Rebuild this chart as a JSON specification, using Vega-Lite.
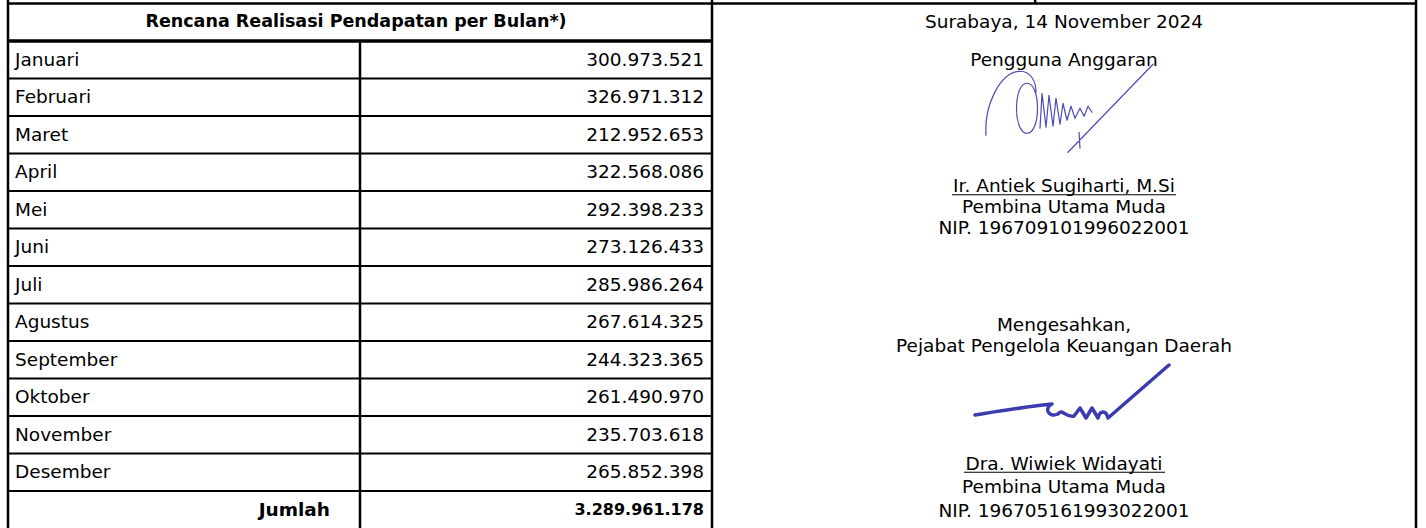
{
  "$schema": "https://vega.github.io/schema/vega-lite/v6.json",
  "width": 1408,
  "height": 525,
  "padding": {"left": 8, "top": 3.5, "right": 10, "bottom": 0},
  "autosize": {"type": "none"},
  "background": "#ffffff",
  "config": {
    "view": {"stroke": null},
    "axis": {"disable": true},
    "font": "DejaVu Sans",
    "text": {"font": "DejaVu Sans", "fontSize": 18.5, "color": "#000000"},
    "locale": {"number": {"decimal": ",", "thousands": ".", "grouping": [3], "currency": ["Rp", ""]}}
  },
  "datasets": {
    "bulan": [
      {"bulan": "Januari", "nilai": 300973521},
      {"bulan": "Februari", "nilai": 326971312},
      {"bulan": "Maret", "nilai": 212952653},
      {"bulan": "April", "nilai": 322568086},
      {"bulan": "Mei", "nilai": 292398233},
      {"bulan": "Juni", "nilai": 273126433},
      {"bulan": "Juli", "nilai": 285986264},
      {"bulan": "Agustus", "nilai": 267614325},
      {"bulan": "September", "nilai": 244323365},
      {"bulan": "Oktober", "nilai": 261490970},
      {"bulan": "November", "nilai": 235703618},
      {"bulan": "Desember", "nilai": 265852398}
    ],
    "ttd": [
      {"baris": "judul", "teks": ["Surabaya, 14 November 2024"]},
      {"baris": "Januari", "teks": ["Pengguna Anggaran"]},
      {"baris": "Mei", "teks": ["Ir. Antiek Sugiharti, M.Si", "Pembina Utama Muda", "NIP. 196709101996022001"]},
      {"baris": "Agustus", "teks": ["Mengesahkan,", "Pejabat Pengelola Keuangan Daerah"]},
      {"baris": "Desember", "teks": ["Dra. Wiwiek Widayati", "Pembina Utama Muda", "NIP. 196705161993022001"]}
    ]
  },
  "layer": [
    {
      "data": {"name": "bulan"},
      "mark": {"type": "rule", "color": "#000000", "strokeWidth": 2},
      "encoding": {
        "y": {"field": "bulan", "type": "nominal", "bandPosition": 1, "axis": null, "scale": {"type": "band", "domain": ["judul", "Januari", "Februari", "Maret", "April", "Mei", "Juni", "Juli", "Agustus", "September", "Oktober", "November", "Desember", "Jumlah"], "paddingInner": 0, "paddingOuter": 0}},
        "x": {"datum": "label", "type": "nominal", "bandPosition": 0, "axis": null, "scale": {"type": "band", "domain": ["label", "value", "panel1", "panel2"], "paddingInner": 0, "paddingOuter": 0}},
        "x2": {"datum": "panel1", "bandPosition": 0}
      }
    },
    {
      "data": {"values": [{}]},
      "mark": {"type": "rule", "color": "#000000", "strokeWidth": 3.5},
      "encoding": {
        "y": {"datum": "Januari", "type": "nominal", "bandPosition": 0, "axis": null, "scale": {"type": "band", "domain": ["judul", "Januari", "Februari", "Maret", "April", "Mei", "Juni", "Juli", "Agustus", "September", "Oktober", "November", "Desember", "Jumlah"], "paddingInner": 0, "paddingOuter": 0}},
        "x": {"datum": "label", "type": "nominal", "bandPosition": 0, "axis": null, "scale": {"type": "band", "domain": ["label", "value", "panel1", "panel2"], "paddingInner": 0, "paddingOuter": 0}},
        "x2": {"datum": "panel1", "bandPosition": 0}
      }
    },
    {
      "data": {"values": [{}]},
      "mark": {"type": "rule", "color": "#000000", "strokeWidth": 2.5},
      "encoding": {
        "y": {"datum": "judul", "type": "nominal", "bandPosition": 0, "axis": null, "scale": {"type": "band", "domain": ["judul", "Januari", "Februari", "Maret", "April", "Mei", "Juni", "Juli", "Agustus", "September", "Oktober", "November", "Desember", "Jumlah"], "paddingInner": 0, "paddingOuter": 0}},
        "x": {"datum": "label", "type": "nominal", "bandPosition": 0, "axis": null, "scale": {"type": "band", "domain": ["label", "value", "panel1", "panel2"], "paddingInner": 0, "paddingOuter": 0}},
        "x2": {"datum": "panel2", "bandPosition": 1}
      }
    },
    {
      "data": {"values": [{"kolom": "label"}, {"kolom": "panel1"}]},
      "mark": {"type": "rule", "color": "#000000", "strokeWidth": 2.5, "yOffset": -4, "y2Offset": 2},
      "encoding": {
        "x": {"field": "kolom", "type": "nominal", "bandPosition": 0, "axis": null, "scale": {"type": "band", "domain": ["label", "value", "panel1", "panel2"], "paddingInner": 0, "paddingOuter": 0}},
        "y": {"datum": "judul", "type": "nominal", "bandPosition": 0, "axis": null, "scale": {"type": "band", "domain": ["judul", "Januari", "Februari", "Maret", "April", "Mei", "Juni", "Juli", "Agustus", "September", "Oktober", "November", "Desember", "Jumlah"], "paddingInner": 0, "paddingOuter": 0}},
        "y2": {"datum": "Jumlah", "bandPosition": 1}
      }
    },
    {
      "data": {"values": [{}]},
      "mark": {"type": "rule", "color": "#000000", "strokeWidth": 2.5, "yOffset": -4, "y2Offset": 2},
      "encoding": {
        "x": {"datum": "panel2", "type": "nominal", "bandPosition": 1, "axis": null, "scale": {"type": "band", "domain": ["label", "value", "panel1", "panel2"], "paddingInner": 0, "paddingOuter": 0}},
        "y": {"datum": "judul", "type": "nominal", "bandPosition": 0, "axis": null, "scale": {"type": "band", "domain": ["judul", "Januari", "Februari", "Maret", "April", "Mei", "Juni", "Juli", "Agustus", "September", "Oktober", "November", "Desember", "Jumlah"], "paddingInner": 0, "paddingOuter": 0}},
        "y2": {"datum": "Jumlah", "bandPosition": 1}
      }
    },
    {
      "data": {"values": [{}]},
      "mark": {"type": "rule", "color": "#000000", "strokeWidth": 2.5, "yOffset": -4},
      "encoding": {
        "x": {"datum": "panel1", "type": "nominal", "bandPosition": 0.918, "axis": null, "scale": {"type": "band", "domain": ["label", "value", "panel1", "panel2"], "paddingInner": 0, "paddingOuter": 0}},
        "y": {"datum": "judul", "type": "nominal", "bandPosition": 0, "axis": null, "scale": {"type": "band", "domain": ["judul", "Januari", "Februari", "Maret", "April", "Mei", "Juni", "Juli", "Agustus", "September", "Oktober", "November", "Desember", "Jumlah"], "paddingInner": 0, "paddingOuter": 0}},
        "y2": {"datum": "judul", "bandPosition": 0}
      }
    },
    {
      "data": {"values": [{}]},
      "mark": {"type": "rule", "color": "#000000", "strokeWidth": 2.5, "y2Offset": 2},
      "encoding": {
        "x": {"datum": "value", "type": "nominal", "bandPosition": 0, "axis": null, "scale": {"type": "band", "domain": ["label", "value", "panel1", "panel2"], "paddingInner": 0, "paddingOuter": 0}},
        "y": {"datum": "Januari", "type": "nominal", "bandPosition": 0, "axis": null, "scale": {"type": "band", "domain": ["judul", "Januari", "Februari", "Maret", "April", "Mei", "Juni", "Juli", "Agustus", "September", "Oktober", "November", "Desember", "Jumlah"], "paddingInner": 0, "paddingOuter": 0}},
        "y2": {"datum": "Jumlah", "bandPosition": 1}
      }
    },
    {
      "data": {"values": [{}]},
      "mark": {"type": "text", "text": "Rencana Realisasi Pendapatan per Bulan*)", "fontWeight": "bold", "fontSize": 17.5, "align": "center", "baseline": "middle", "dx": -4},
      "encoding": {
        "x": {"datum": "value", "type": "nominal", "bandPosition": 0, "axis": null, "scale": {"type": "band", "domain": ["label", "value", "panel1", "panel2"], "paddingInner": 0, "paddingOuter": 0}},
        "y": {"datum": "judul", "type": "nominal", "bandPosition": 0.5, "axis": null, "scale": {"type": "band", "domain": ["judul", "Januari", "Februari", "Maret", "April", "Mei", "Juni", "Juli", "Agustus", "September", "Oktober", "November", "Desember", "Jumlah"], "paddingInner": 0, "paddingOuter": 0}}
      }
    },
    {
      "data": {"name": "bulan"},
      "mark": {"type": "text", "align": "left", "baseline": "middle", "dx": 7},
      "encoding": {
        "text": {"field": "bulan", "type": "nominal"},
        "x": {"datum": "label", "type": "nominal", "bandPosition": 0, "axis": null, "scale": {"type": "band", "domain": ["label", "value", "panel1", "panel2"], "paddingInner": 0, "paddingOuter": 0}},
        "y": {"field": "bulan", "type": "nominal", "bandPosition": 0.5, "axis": null, "scale": {"type": "band", "domain": ["judul", "Januari", "Februari", "Maret", "April", "Mei", "Juni", "Juli", "Agustus", "September", "Oktober", "November", "Desember", "Jumlah"], "paddingInner": 0, "paddingOuter": 0}}
      }
    },
    {
      "data": {"name": "bulan"},
      "mark": {"type": "text", "align": "right", "baseline": "middle", "dx": -8},
      "encoding": {
        "text": {"field": "nilai", "type": "quantitative", "format": ",d"},
        "x": {"datum": "value", "type": "nominal", "bandPosition": 1, "axis": null, "scale": {"type": "band", "domain": ["label", "value", "panel1", "panel2"], "paddingInner": 0, "paddingOuter": 0}},
        "y": {"field": "bulan", "type": "nominal", "bandPosition": 0.5, "axis": null, "scale": {"type": "band", "domain": ["judul", "Januari", "Februari", "Maret", "April", "Mei", "Juni", "Juli", "Agustus", "September", "Oktober", "November", "Desember", "Jumlah"], "paddingInner": 0, "paddingOuter": 0}}
      }
    },
    {
      "data": {"values": [{}]},
      "mark": {"type": "text", "text": "Jumlah", "fontWeight": "bold", "fontSize": 18.5, "align": "right", "baseline": "middle", "dx": -30},
      "encoding": {
        "x": {"datum": "label", "type": "nominal", "bandPosition": 1, "axis": null, "scale": {"type": "band", "domain": ["label", "value", "panel1", "panel2"], "paddingInner": 0, "paddingOuter": 0}},
        "y": {"datum": "Jumlah", "type": "nominal", "bandPosition": 0.5, "axis": null, "scale": {"type": "band", "domain": ["judul", "Januari", "Februari", "Maret", "April", "Mei", "Juni", "Juli", "Agustus", "September", "Oktober", "November", "Desember", "Jumlah"], "paddingInner": 0, "paddingOuter": 0}}
      }
    },
    {
      "data": {"name": "bulan"},
      "transform": [{"aggregate": [{"op": "sum", "field": "nilai", "as": "total"}]}],
      "mark": {"type": "text", "fontWeight": "bold", "fontSize": 16, "align": "right", "baseline": "middle", "dx": -8},
      "encoding": {
        "text": {"field": "total", "type": "quantitative", "format": ",d"},
        "x": {"datum": "value", "type": "nominal", "bandPosition": 1, "axis": null, "scale": {"type": "band", "domain": ["label", "value", "panel1", "panel2"], "paddingInner": 0, "paddingOuter": 0}},
        "y": {"datum": "Jumlah", "type": "nominal", "bandPosition": 0.5, "axis": null, "scale": {"type": "band", "domain": ["judul", "Januari", "Februari", "Maret", "April", "Mei", "Juni", "Juli", "Agustus", "September", "Oktober", "November", "Desember", "Jumlah"], "paddingInner": 0, "paddingOuter": 0}}
      }
    },
    {
      "data": {"name": "ttd"},
      "transform": [{"filter": {"field": "baris", "oneOf": ["judul", "Januari"]}}],
      "mark": {"type": "text", "align": "center", "baseline": "middle", "lineHeight": 22},
      "encoding": {
        "text": {"field": "teks", "type": "nominal"},
        "x": {"datum": "panel2", "type": "nominal", "bandPosition": 0, "axis": null, "scale": {"type": "band", "domain": ["label", "value", "panel1", "panel2"], "paddingInner": 0, "paddingOuter": 0}},
        "y": {"field": "baris", "type": "nominal", "bandPosition": 0.5, "axis": null, "scale": {"type": "band", "domain": ["judul", "Januari", "Februari", "Maret", "April", "Mei", "Juni", "Juli", "Agustus", "September", "Oktober", "November", "Desember", "Jumlah"], "paddingInner": 0, "paddingOuter": 0}}
      }
    },
    {
      "data": {"name": "ttd"},
      "transform": [{"filter": {"field": "baris", "equal": "Mei"}}],
      "mark": {"type": "text", "align": "center", "baseline": "middle", "lineHeight": 21, "dy": -22},
      "encoding": {
        "text": {"field": "teks", "type": "nominal"},
        "x": {"datum": "panel2", "type": "nominal", "bandPosition": 0, "axis": null, "scale": {"type": "band", "domain": ["label", "value", "panel1", "panel2"], "paddingInner": 0, "paddingOuter": 0}},
        "y": {"field": "baris", "type": "nominal", "bandPosition": 0.45, "axis": null, "scale": {"type": "band", "domain": ["judul", "Januari", "Februari", "Maret", "April", "Mei", "Juni", "Juli", "Agustus", "September", "Oktober", "November", "Desember", "Jumlah"], "paddingInner": 0, "paddingOuter": 0}}
      }
    },
    {
      "data": {"name": "ttd"},
      "transform": [{"filter": {"field": "baris", "equal": "Agustus"}}],
      "mark": {"type": "text", "align": "center", "baseline": "middle", "lineHeight": 21, "dy": -11},
      "encoding": {
        "text": {"field": "teks", "type": "nominal"},
        "x": {"datum": "panel2", "type": "nominal", "bandPosition": 0, "axis": null, "scale": {"type": "band", "domain": ["label", "value", "panel1", "panel2"], "paddingInner": 0, "paddingOuter": 0}},
        "y": {"field": "baris", "type": "nominal", "bandPosition": 0.86, "axis": null, "scale": {"type": "band", "domain": ["judul", "Januari", "Februari", "Maret", "April", "Mei", "Juni", "Juli", "Agustus", "September", "Oktober", "November", "Desember", "Jumlah"], "paddingInner": 0, "paddingOuter": 0}}
      }
    },
    {
      "data": {"name": "ttd"},
      "transform": [{"filter": {"field": "baris", "equal": "Desember"}}],
      "mark": {"type": "text", "align": "center", "baseline": "middle", "lineHeight": 23.5, "dy": -23.5},
      "encoding": {
        "text": {"field": "teks", "type": "nominal"},
        "x": {"datum": "panel2", "type": "nominal", "bandPosition": 0, "axis": null, "scale": {"type": "band", "domain": ["label", "value", "panel1", "panel2"], "paddingInner": 0, "paddingOuter": 0}},
        "y": {"field": "baris", "type": "nominal", "bandPosition": 0.9, "axis": null, "scale": {"type": "band", "domain": ["judul", "Januari", "Februari", "Maret", "April", "Mei", "Juni", "Juli", "Agustus", "September", "Oktober", "November", "Desember", "Jumlah"], "paddingInner": 0, "paddingOuter": 0}}
      }
    },
    {
      "data": {"values": [{}]},
      "mark": {"type": "rule", "color": "#000000", "strokeWidth": 1.2, "xOffset": -112, "x2Offset": 112},
      "encoding": {
        "x": {"datum": "panel2", "type": "nominal", "bandPosition": 0, "axis": null, "scale": {"type": "band", "domain": ["label", "value", "panel1", "panel2"], "paddingInner": 0, "paddingOuter": 0}},
        "x2": {"datum": "panel2", "bandPosition": 0},
        "y": {"datum": "Mei", "type": "nominal", "bandPosition": 0.1, "axis": null, "scale": {"type": "band", "domain": ["judul", "Januari", "Februari", "Maret", "April", "Mei", "Juni", "Juli", "Agustus", "September", "Oktober", "November", "Desember", "Jumlah"], "paddingInner": 0, "paddingOuter": 0}}
      }
    },
    {
      "data": {"values": [{}]},
      "mark": {"type": "rule", "color": "#000000", "strokeWidth": 1.2, "xOffset": -100, "x2Offset": 101},
      "encoding": {
        "x": {"datum": "panel2", "type": "nominal", "bandPosition": 0, "axis": null, "scale": {"type": "band", "domain": ["label", "value", "panel1", "panel2"], "paddingInner": 0, "paddingOuter": 0}},
        "x2": {"datum": "panel2", "bandPosition": 0},
        "y": {"datum": "Desember", "type": "nominal", "bandPosition": 0.5, "axis": null, "scale": {"type": "band", "domain": ["judul", "Januari", "Februari", "Maret", "April", "Mei", "Juni", "Juli", "Agustus", "September", "Oktober", "November", "Desember", "Jumlah"], "paddingInner": 0, "paddingOuter": 0}}
      }
    },
    {
      "data": {"values": [{}]},
      "mark": {"type": "point", "filled": false, "opacity": 1, "size": 40000, "stroke": "#4b4bb8", "strokeWidth": 1.2, "strokeCap": "round", "strokeJoin": "round",
        "shape": "M -0.78 0.38 C -0.80 0.08 -0.64 -0.25 -0.44 -0.26 C -0.34 -0.26 -0.28 -0.17 -0.28 -0.05 M -0.37 -0.14 C -0.51 -0.14 -0.51 0.36 -0.37 0.36 C -0.23 0.36 -0.23 -0.14 -0.37 -0.14 M -0.24 0.31 L -0.22 -0.04 L -0.18 0.30 L -0.15 -0.02 L -0.11 0.29 L -0.08 0.01 L -0.04 0.27 L -0.01 0.06 L 0.03 0.23 L 0.07 0.09 L 0.11 0.21 L 0.16 0.11 L 0.20 0.19 L 0.24 0.09 L 0.28 0.15 M 0.04 0.55 L 0.89 -0.33 M 0.15 0.35 L 0.16 0.51"},
      "encoding": {
        "x": {"datum": "panel2", "type": "nominal", "bandPosition": 0, "axis": null, "scale": {"type": "band", "domain": ["label", "value", "panel1", "panel2"], "paddingInner": 0, "paddingOuter": 0}},
        "y": {"datum": "Februari", "type": "nominal", "bandPosition": 0.5, "axis": null, "scale": {"type": "band", "domain": ["judul", "Januari", "Februari", "Maret", "April", "Mei", "Juni", "Juli", "Agustus", "September", "Oktober", "November", "Desember", "Jumlah"], "paddingInner": 0, "paddingOuter": 0}}
      }
    },
    {
      "data": {"values": [{}]},
      "mark": {"type": "point", "filled": false, "opacity": 1, "size": 40000, "stroke": "#3b3bb0", "strokeWidth": 3.5, "strokeCap": "round", "strokeJoin": "round",
        "shape": "M -0.89 0.1775 C -0.64 0.1375 -0.34 0.0875 -0.12 0.0675 C -0.20 0.1075 -0.16 0.2075 -0.06 0.1675 C -0.02 0.1075 0.02 0.2075 0.10 0.1875 L 0.16 0.1075 L 0.22 0.2075 L 0.28 0.1075 L 0.34 0.2075 C 0.36 0.1275 0.42 0.1275 0.44 0.2075 L 1.05 -0.3225"},
      "encoding": {
        "x": {"datum": "panel2", "type": "nominal", "bandPosition": 0, "axis": null, "scale": {"type": "band", "domain": ["label", "value", "panel1", "panel2"], "paddingInner": 0, "paddingOuter": 0}},
        "y": {"datum": "Oktober", "type": "nominal", "bandPosition": 0.5, "axis": null, "scale": {"type": "band", "domain": ["judul", "Januari", "Februari", "Maret", "April", "Mei", "Juni", "Juli", "Agustus", "September", "Oktober", "November", "Desember", "Jumlah"], "paddingInner": 0, "paddingOuter": 0}}
      }
    }
  ]
}
